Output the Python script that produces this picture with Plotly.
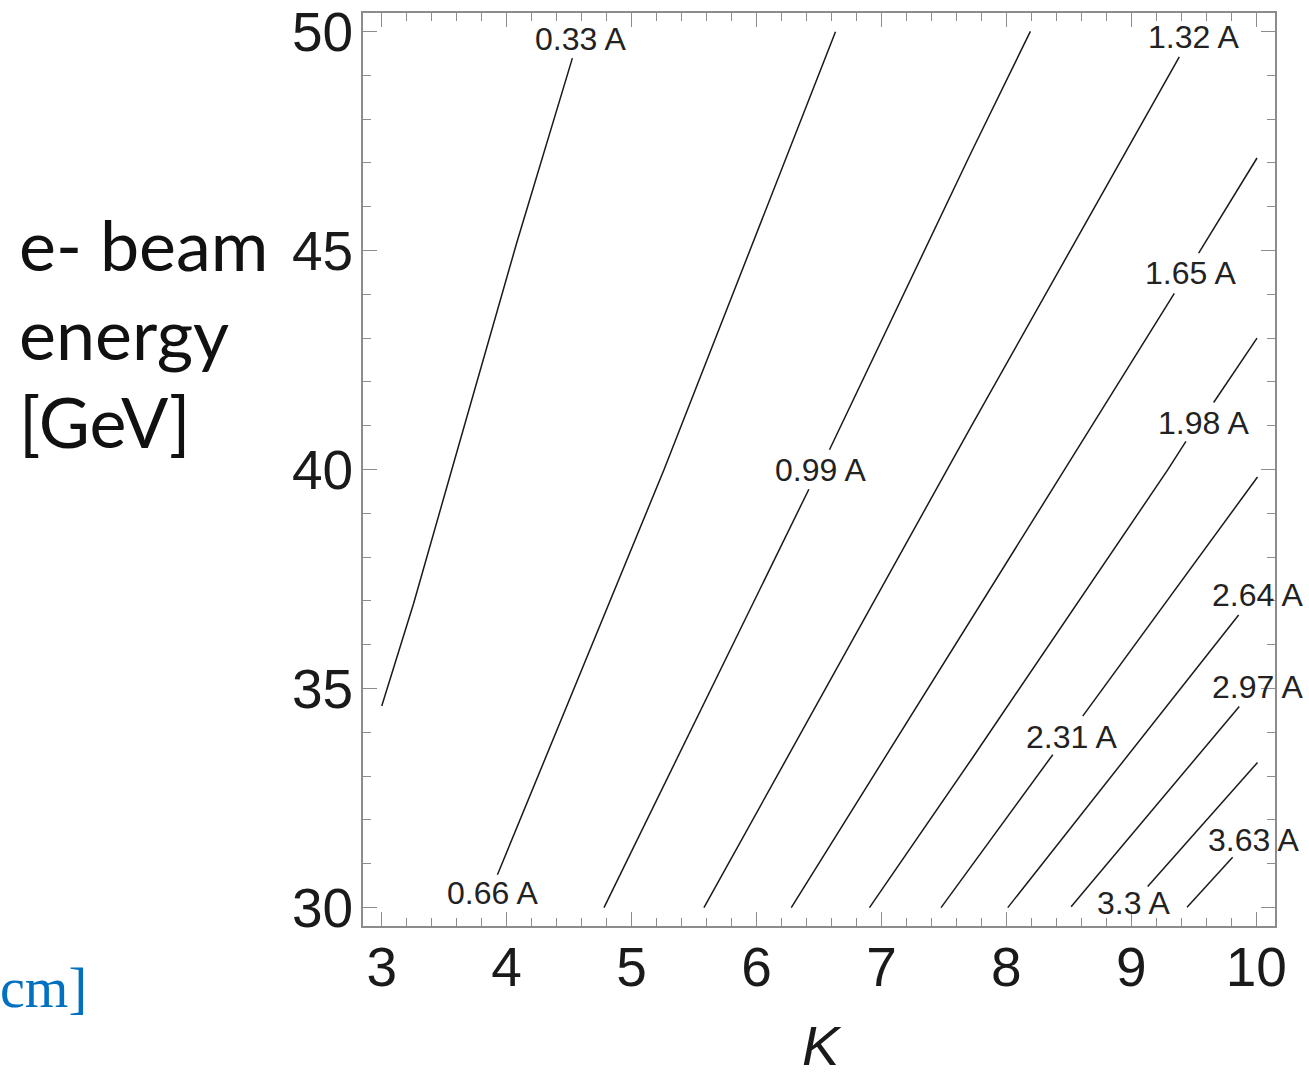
import plotly.graph_objects as go

# Beam-current contour levels [A]
levels = [0.33, 0.66, 0.99, 1.32, 1.65, 1.98, 2.31, 2.64, 2.97, 3.30, 3.63]

# Contour paths (undulator K, e- beam energy in GeV); None marks a break at a label
k_033 = [3.00, 3.255, 3.56, 4.08, 4.526]
e_033 = [34.60, 36.94, 39.99, 45.17, 49.39]

k_066 = [3.926, 5.26, 6.632]
e_066 = [30.75, 40.00, 49.99]

k_099 = [4.779, 5.286, 6.419, None, 6.584, 7.717, 8.192]
e_099 = [30.00, 32.96, 39.55, None, 40.45, 47.23, 50.00]

k_132 = [5.579, 7.525, 7.717, 9.384]
e_132 = [30.00, 39.99, 40.98, 49.42]

k_165 = [6.278, 7.717, 8.464, 9.344, None, 9.539, 10.006]
e_165 = [30.00, 36.56, 39.99, 44.02, None, 44.94, 47.11]

k_198 = [6.904, 7.717, 9.291, 9.437, None, 9.659, 10.006]
e_198 = [30.00, 33.37, 39.99, 40.64, None, 41.53, 43.00]

k_231 = [7.477, 7.717, 8.371, None, 8.611, 10.01]
e_231 = [30.00, 30.94, 33.49, None, 34.37, 39.83]

k_264 = [8.011, 9.859]
e_264 = [30.00, 36.68]

k_297 = [8.518, 9.864]
e_297 = [30.02, 34.59]

k_330 = [9.131, 10.01]
e_330 = [30.48, 33.31]

k_363 = [9.446, 9.811]
e_363 = [30.01, 31.15]

# Label anchor positions (K, energy)
label_k = [4.587, 3.884, 6.51, 9.499, 9.47, 9.578, 8.518, 10.01, 10.01, 9.02, 9.98]
label_e = [49.82, 30.33, 39.98, 49.88, 44.48, 41.07, 33.90, 37.13, 35.04, 30.10, 31.55]

# Axis ticks
x_ticks = [3, 4, 5, 6, 7, 8, 9, 10]
y_ticks = [30, 35, 40, 45, 50]

paths_k = [k_033, k_066, k_099, k_132, k_165, k_198, k_231, k_264, k_297, k_330, k_363]
paths_e = [e_033, e_066, e_099, e_132, e_165, e_198, e_231, e_264, e_297, e_330, e_363]

W, H = 1309, 1079
ML, MR, MT, MB = 363, 34, 13, 153
PW, PH = W - ML - MR, H - MT - MB

def px_x(px):
    return (px - ML) / PW

def px_y(py):
    return (H - MB - py) / PH

fig = go.Figure()
for lvl, ks, es in zip(levels, paths_k, paths_e):
    fig.add_trace(go.Scatter(
        x=ks, y=es, mode="lines", name=f"{lvl:g} A",
        line=dict(color="#1a1a1a", width=1.5),
        connectgaps=False, showlegend=False, hoverinfo="skip",
    ))

label_font = dict(family="Liberation Sans, Arial, sans-serif", size=32, color="#222222")
for lvl, kx, ey in zip(levels, label_k, label_e):
    fig.add_annotation(x=kx, y=ey, xref="x", yref="y", text=f"{lvl:g} A",
                       showarrow=False, font=label_font,
                       xanchor="center", yanchor="middle")

axis_col = "#8c8c8c"
tick_font = dict(family="Liberation Sans, Arial, sans-serif", size=55, color="#1a1a1a")

fig.update_xaxes(
    range=[2.85, 10.15], tickvals=x_ticks, ticktext=[str(v) for v in x_ticks],
    ticks="inside", ticklen=14, tickwidth=1.3, tickcolor=axis_col,
    minor=dict(dtick=0.2, tick0=0, ticks="inside", ticklen=8, tickwidth=1.2, tickcolor=axis_col),
    showline=True, linecolor=axis_col, linewidth=1.6, mirror="ticks",
    showgrid=False, zeroline=False, tickfont=tick_font, ticklabelstandoff=-8,
)
fig.update_yaxes(
    range=[29.58, 50.42], tickvals=y_ticks, ticktext=[str(v) for v in y_ticks],
    ticks="inside", ticklen=14, tickwidth=1.3, tickcolor=axis_col,
    minor=dict(dtick=1, tick0=0, ticks="inside", ticklen=8, tickwidth=1.2, tickcolor=axis_col),
    showline=True, linecolor=axis_col, linewidth=1.6, mirror="ticks",
    showgrid=False, zeroline=False, tickfont=tick_font, ticklabelstandoff=-3,
)

# Axis title K, kept inside the bottom edge of the page
fig.add_annotation(x=px_x(822), y=px_y(1078), xref="paper", yref="paper", text="<i>K</i>",
                   showarrow=False, font=dict(family="Liberation Sans, Arial, sans-serif", size=56, color="#1a1a1a"),
                   xanchor="center", yanchor="bottom", borderpad=0)

# Side caption
side_font = dict(family="Lato, Carlito, Calibri, sans-serif", size=70, color="#111111")
for txt, cy in [("e- beam", 244), ("energy", 333), ("[GeV]", 421)]:
    fig.add_annotation(x=px_x(17), y=px_y(cy), xref="paper", yref="paper", text=txt,
                       showarrow=False, font=side_font, xanchor="left", yanchor="middle")

fig.add_annotation(x=px_x(-2), y=px_y(988), xref="paper", yref="paper", text="cm]",
                   showarrow=False,
                   font=dict(family="Liberation Serif, Times New Roman, serif", size=56, color="#0070C0"),
                   xanchor="left", yanchor="middle")

fig.update_layout(
    width=W, height=H,
    margin=dict(l=ML, r=MR, t=MT, b=MB, autoexpand=False),
    paper_bgcolor="white", plot_bgcolor="white",
    showlegend=False,
)

fig.write_html("out.html")
